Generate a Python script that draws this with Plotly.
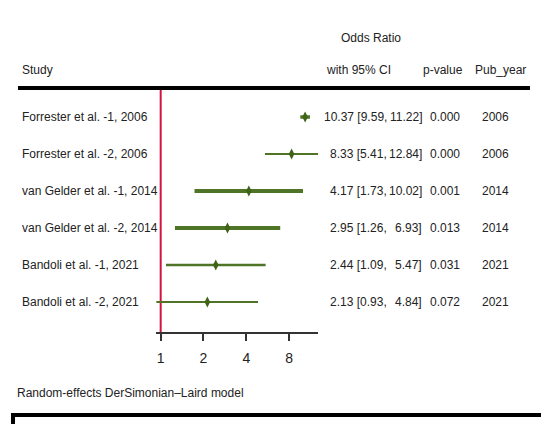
import math
import plotly.graph_objects as go

# Study-level results (odds ratios with 95% CI)
studies = [
    "Forrester et al. -1, 2006",
    "Forrester et al. -2, 2006",
    "van Gelder et al. -1, 2014",
    "van Gelder et al. -2, 2014",
    "Bandoli et al. -1, 2021",
    "Bandoli et al. -2, 2021",
]
odds_ratio = [10.37, 8.33, 4.17, 2.95, 2.44, 2.13]
ci_low = [9.59, 5.41, 1.73, 1.26, 1.09, 0.93]
ci_high = [11.22, 12.84, 10.02, 6.93, 5.47, 4.84]
p_values = ["0.000", "0.000", "0.001", "0.013", "0.031", "0.072"]
pub_year = ["2006", "2006", "2014", "2014", "2021", "2021"]
ci_weight = [3.5, 2.2, 4.0, 4.0, 2.6, 2.2]  # line thickness of each CI bar

tick_vals = [1, 2, 4, 8]
tick_text = ["1", "2", "4", "8"]

W, H = 541, 424
FONT = "Liberation Sans, Arial, sans-serif"
FS = 12
TXT = "#222222"
GREEN = "#4f7426"
MARK = "#3f6418"
RED = "#d3123f"


def px(x):
    return x / W


def py(y):
    return 1 - y / H


n = len(studies)
rows = list(range(n, 0, -1))  # top study gets the highest row value

y_bottom, y_top = 0.189, 6.73
fig = go.Figure()

# reference line at OR = 1
fig.add_trace(go.Scatter(x=[1, 1], y=[y_bottom, y_top], mode="lines",
                         line=dict(color=RED, width=2), hoverinfo="skip",
                         showlegend=False))

# confidence intervals
for i in range(n):
    fig.add_trace(go.Scatter(x=[ci_low[i], ci_high[i]], y=[rows[i], rows[i]],
                             mode="lines", line=dict(color=GREEN, width=ci_weight[i]),
                             showlegend=False, hoverinfo="skip"))

# point estimates
fig.add_trace(go.Scatter(x=odds_ratio, y=rows, mode="markers",
                         marker=dict(symbol="diamond-tall", size=8, color=MARK),
                         showlegend=False, text=studies))

ann = []
for i in range(n):
    ann.append(dict(x=px(20), y=rows[i], xref="paper", yref="y", text=studies[i],
                    xanchor="left", showarrow=False))
    ann.append(dict(x=px(389), y=rows[i], xref="paper", yref="y",
                    text=f"{odds_ratio[i]:.2f} [{ci_low[i]:.2f},",
                    xanchor="right", showarrow=False))
    ann.append(dict(x=px(424), y=rows[i], xref="paper", yref="y",
                    text=f"{ci_high[i]:.2f}]", xanchor="right", showarrow=False))
    ann.append(dict(x=px(445), y=rows[i], xref="paper", yref="y", text=p_values[i],
                    xanchor="center", showarrow=False))
    ann.append(dict(x=px(496), y=rows[i], xref="paper", yref="y", text=pub_year[i],
                    xanchor="center", showarrow=False))

# column headers and footnote
hdr = [
    dict(x=px(20), y=py(70), text="Study", xanchor="left"),
    dict(x=px(371), y=py(38), text="Odds Ratio", xanchor="center"),
    dict(x=px(393), y=py(70), text="with 95% CI", xanchor="right"),
    dict(x=px(443), y=py(70), text="p-value", xanchor="center"),
    dict(x=px(500), y=py(70), text="Pub_year", xanchor="center"),
    dict(x=px(15), y=py(393), text="Random-effects DerSimonian\u2013Laird model",
         xanchor="left"),
]
for a in hdr:
    a.update(xref="paper", yref="paper", showarrow=False)
ann += hdr
for a in ann:
    a["yanchor"] = "middle"

shapes = [
    dict(type="line", xref="paper", yref="paper", x0=px(18), x1=px(530),
         y0=py(88), y1=py(88), line=dict(color="black", width=4)),
    dict(type="rect", xref="paper", yref="paper", x0=px(13), x1=px(W + 20),
         y0=py(H + 20), y1=py(415), line=dict(color="black", width=4)),
]

lo_lim = min(ci_low)
hi_lim = max(ci_high)

fig.update_layout(
    width=W, height=H,
    margin=dict(l=0, r=0, t=0, b=0),
    paper_bgcolor="white", plot_bgcolor="white",
    font=dict(family=FONT, size=FS, color=TXT),
    annotations=ann,
    shapes=shapes,
    xaxis=dict(type="log", domain=[px(156.2), px(318.3)],
               range=[math.log10(lo_lim), math.log10(hi_lim)],
               tickvals=tick_vals, ticktext=tick_text,
               ticks="outside", ticklen=7, tickwidth=1.5, tickcolor="#333",
               ticklabelstandoff=5,
               showline=True, linecolor="#333", linewidth=1.5,
               showgrid=False, zeroline=False,
               tickfont=dict(family=FONT, size=14, color=TXT)),
    yaxis=dict(range=[y_bottom, y_top], domain=[py(332), py(90)],
               showgrid=False, zeroline=False, showticklabels=False,
               showline=False, ticks=""),
)

fig.write_html("out.html")
